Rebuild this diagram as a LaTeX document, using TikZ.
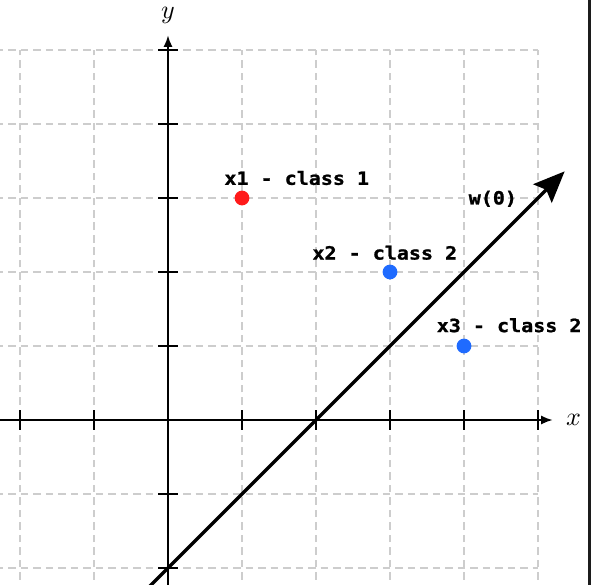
\documentclass[tikz,border=0pt]{standalone}
\usepackage{fontspec}
\newfontfamily\labfont[FakeStretch=1.1,FakeBold=1.2]{DejaVu Sans Mono Bold}
\usetikzlibrary{arrows.meta}
\definecolor{gridgray}{HTML}{CDCDCD}
\definecolor{ptred}{HTML}{FF1A1A}
\definecolor{ptblue}{HTML}{1F6BFF}
\definecolor{edgedark}{HTML}{1C1C1C}
\tikzset{
  gridline/.style={draw=gridgray, line width=0.45pt, dash pattern=on 2.9pt off 1.9pt},
  axisline/.style={draw=black, line width=0.8pt, -{Latex[length=4.5pt,width=3.5pt]}},
  tickline/.style={draw=black, line width=0.45pt},
  ptlabel/.style={font=\labfont\fontsize{7}{8}\selectfont, inner sep=0pt},
  dotred/.style={circle, fill=ptred, minimum size=0.2cm, inner sep=0pt},
  dotblue/.style={circle, fill=ptblue, minimum size=0.2cm, inner sep=0pt},
  wvec/.style={draw=black, line width=1.3pt, -{Stealth[length=12pt,width=10pt,inset=2pt]}}
}
\begin{document}
\begin{tikzpicture}
\useasboundingbox (-2.2703,-2.2162) rectangle (5.7162,5.6757);
\clip (-2.2703,-2.2162) rectangle (5.7162,5.6757);
\fill[white] (-2.2703,-2.2162) rectangle (5.7162,5.6757);
% grid
\foreach \i in {-2,...,5} {
  \draw[gridline] (\i,-3) -- (\i,5);
  \draw[gridline] (-3,\i) -- (5,\i);
}
% axes
\coordinate (xs) at (-2.3,0);
\coordinate (xe) at (5.2,0);
\coordinate (ys) at (0,-2.3);
\coordinate (ye) at (0,5.2);
\draw[axisline] (xs) -- (xe);
\draw[axisline] (ys) -- (ye);
\node[inner sep=0pt, font=\fontsize{10}{12}\selectfont] (xl) at (5.48,0.0) {$x$};
\node[inner sep=0pt, font=\fontsize{10}{12}\selectfont] (yl) at (0,5.47) {$y$};
% ticks
\foreach \i in {-2,-1,1,2,3,4,5} {
  \draw[tickline] (\i,-0.13) -- (\i,0.13);
  \draw[tickline] (-0.13,\i) -- (0.13,\i);
}
% weight vector
\coordinate (w0) at (-0.5,-2.5);
\coordinate (w1) at (5.36,3.36);
\draw[wvec] (w0) -- (w1);
\node[ptlabel] (wl) at (4.39,2.99) {w(0)};
% points
\node[dotred] (p1) at (1,3) {};
\node[dotblue] (p2) at (3,2) {};
\node[dotblue] (p3) at (4,1) {};
\node[ptlabel] (l1) at (1.74,3.27) {x1 - class 1};
\node[ptlabel] (l2) at (2.93,2.26) {x2 - class 2};
\node[ptlabel] (l3) at (4.61,1.28) {x3 - class 2};
% right edge strip
\fill[edgedark] (5.676,-2.3) rectangle (5.72,5.7);
\end{tikzpicture}
\end{document}
